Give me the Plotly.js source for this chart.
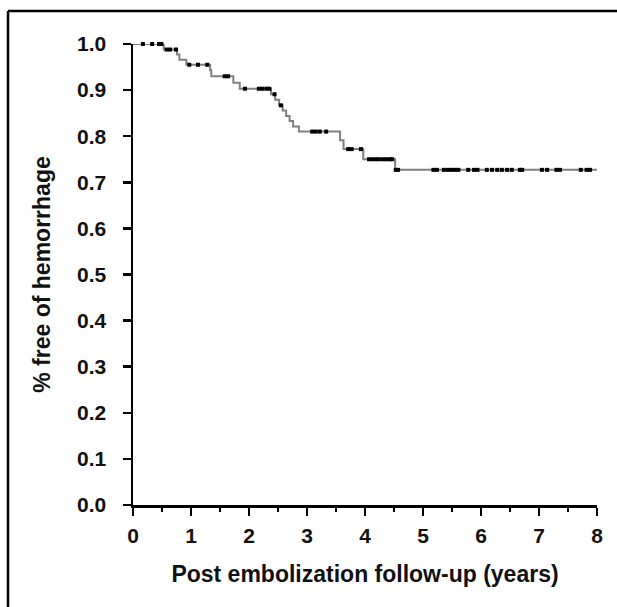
<!DOCTYPE html>
<html>
<head>
<meta charset="utf-8">
<script src="https://cdn.plot.ly/plotly-3.0.1.min.js"></script>
<style>html,body{margin:0;padding:0;background:#fff;}#chart{width:617px;height:607px;}</style>
</head>
<body>
<div id="chart"></div>
<script>
// Kaplan-Meier step data (event times in years, survival after the event)
const eventTimes = [0, 0.53, 0.76, 0.80, 0.92, 1.33, 1.35, 1.73, 1.84, 2.38, 2.45, 2.52, 2.58, 2.64, 2.70, 2.76, 2.86, 3.57, 3.63, 3.97, 4.52];
const survival   = [1.0, 0.988, 0.977, 0.966, 0.955, 0.943, 0.930, 0.916, 0.903, 0.891, 0.879, 0.867, 0.856, 0.844, 0.833, 0.821, 0.810, 0.791, 0.772, 0.750, 0.727];
const endTime = 8.0;
// censored observations (years)
const censorTimes = [0.17, 0.33, 0.45, 0.49, 0.58, 0.64, 0.74, 0.97, 1.12, 1.28, 1.58, 1.64, 1.93, 2.17, 2.23, 2.30, 2.35, 2.44, 2.55,
  3.09, 3.15, 3.22, 3.33, 3.71, 3.77, 3.93, 4.07, 4.13, 4.19, 4.24, 4.31, 4.37, 4.43, 4.47, 4.53, 4.57,
  5.18, 5.24, 5.36, 5.43, 5.49, 5.55, 5.61, 5.78, 5.88, 5.94, 6.10, 6.19, 6.28, 6.36, 6.45, 6.53, 6.67, 6.71,
  7.05, 7.14, 7.30, 7.36, 7.72, 7.82, 7.88];
const xTicks = [0,1,2,3,4,5,6,7,8];
const yTicks = [0,0.1,0.2,0.3,0.4,0.5,0.6,0.7,0.8,0.9,1.0];
const yTickText = ['0.0','0.1','0.2','0.3','0.4','0.5','0.6','0.7','0.8','0.9','1.0'];

function survAt(t){
  let s = survival[0];
  for (let i=0;i<eventTimes.length;i++){ if (eventTimes[i] <= t) s = survival[i]; }
  return s;
}
const lineX = eventTimes.concat([endTime]);
const lineY = survival.concat([survival[survival.length-1]]);

const traces = [
  {x: lineX, y: lineY, type:'scatter', mode:'lines', line:{shape:'hv', color:'#808080', width:2}, cliponaxis:false, hoverinfo:'skip'},
  {x: censorTimes, y: censorTimes.map(survAt), type:'scatter', mode:'markers',
   marker:{symbol:'square', size:4, color:'#000', line:{width:0}}, cliponaxis:false}
];

const FAM = 'Liberation Sans, Arial, sans-serif';
const fnt = {family:FAM, size:21, color:'#111', weight:'bold'};
const layout = {
  width:617, height:607, showlegend:false,
  paper_bgcolor:'#fff', plot_bgcolor:'#fff',
  margin:{l:133, r:20, t:44, b:102},
  xaxis:{range:[0,8], tickvals:xTicks, ticks:'outside', ticklen:8, tickwidth:2.5, tickcolor:'#000',
    showline:true, linecolor:'#000', linewidth:2.5, showgrid:false, zeroline:false,
    minor:{dtick:0.5, ticks:'outside', ticklen:4, tickwidth:2, tickcolor:'#000', showgrid:false},
    tickfont:fnt, ticklabelstandoff:2,
    title:{text:'Post embolization follow-up (years)', font:{family:FAM, size:23, color:'#111', weight:'bold'}, standoff:20}},
  yaxis:{range:[0,1], tickvals:yTicks, ticktext:yTickText, ticks:'outside', ticklen:8, tickwidth:2.5, tickcolor:'#000',
    showline:true, linecolor:'#000', linewidth:2.5, showgrid:false, zeroline:false,
    tickfont:fnt, ticklabelstandoff:12,
    title:{text:'% free of hemorrhage', font:{family:FAM, size:23, color:'#111', weight:'bold'}, standoff:20}},
  shapes:[
    {type:'line', xref:'paper', yref:'paper', x0:(8-133)/464, x1:(640-133)/464, y0:(505-11)/461, y1:(505-11)/461, line:{color:'#000', width:2.5}},
    {type:'line', xref:'paper', yref:'paper', x0:(8-133)/464, x1:(8-133)/464, y0:(505-11)/461, y1:(505-640)/461, line:{color:'#000', width:2.5}}
  ]
};
Plotly.newPlot('chart', traces, layout, {displayModeBar:false, staticPlot:true});
</script>
</body>
</html>
